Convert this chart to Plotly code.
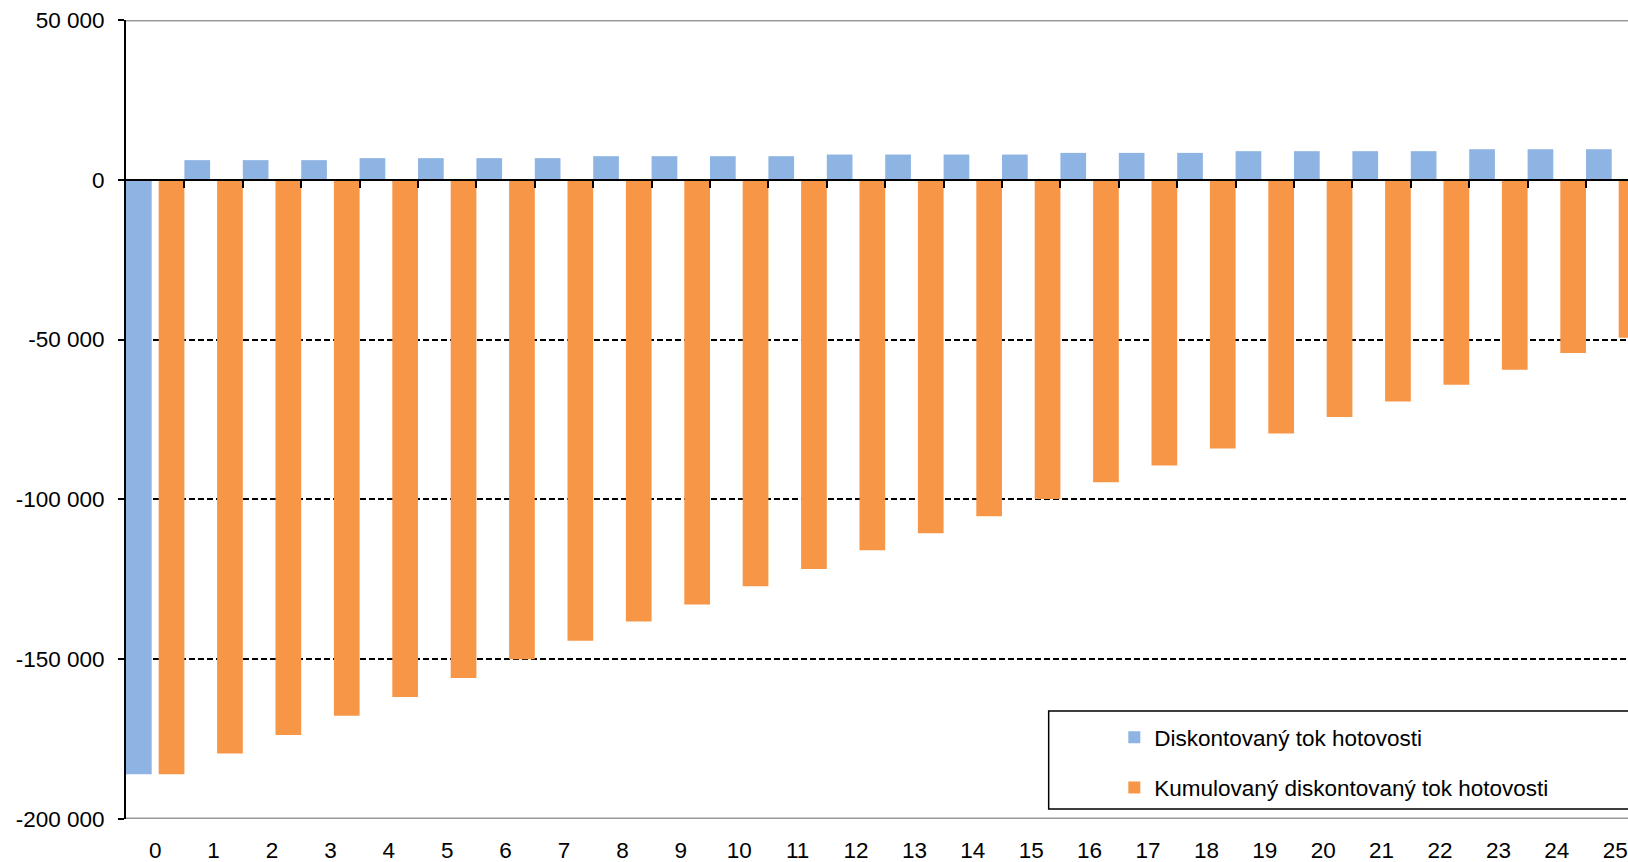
import plotly.graph_objects as go

# Years of the project
years = list(range(26))

# Discounted cash flow per year
discounted_cf = [-186000,
                 6150, 6150, 6150,
                 6780, 6780, 6780, 6780,
                 7390, 7390, 7390, 7390,
                 7900, 7900, 7900, 7900,
                 8420, 8420, 8420,
                 8960, 8960, 8960, 8960,
                 9570, 9570, 9570]

# Cumulative discounted cash flow
cumulative_cf = [-186000, -179500, -173700, -167700, -161800, -155900,
                 -150000, -144200, -138200, -132900, -127200, -121800,
                 -115900, -110600, -105300, -99900, -94600, -89400,
                 -84100, -79400, -74200, -69400, -64100, -59400,
                 -54200, -49400]

y_tick_vals = [50000, 0, -50000, -100000, -150000, -200000]
y_tick_text = ["50 000", "0", "-50 000", "-100 000", "-150 000", "-200 000"]

series_names = ["Diskontovaný tok hotovosti",
                "Kumulovaný diskontovaný tok hotovosti"]

FONT = "Liberation Sans, Arial, sans-serif"
FONT_SIZE = 22.5
BLUE = "#8EB4E3"
ORANGE = "#F79646"
BAR_W = 0.44

fig = go.Figure()
fig.add_trace(go.Bar(
    x=years, y=discounted_cf, name=series_names[0],
    marker=dict(color=BLUE, line=dict(width=0)),
    width=BAR_W, offset=-0.5, legendgroup="a",
))
fig.add_trace(go.Bar(
    x=years, y=cumulative_cf, name=series_names[1],
    marker=dict(color=ORANGE, line=dict(width=0)),
    width=BAR_W, offset=0.5 - BAR_W, legendgroup="b",
))

x_range = [-0.5, -0.5 + 1502 / 58.4]

fig.update_layout(
    width=1628, height=862,
    margin=dict(l=126, r=0, t=20, b=43, autoexpand=False),
    paper_bgcolor="white", plot_bgcolor="white",
    barmode="overlay",
    font=dict(family=FONT, size=FONT_SIZE, color="black"),
    showlegend=True,
    legend=dict(
        x=0.658, y=0.0707, xanchor="left", yanchor="middle",
        bgcolor="rgba(0,0,0,0)", borderwidth=0,
        font=dict(family=FONT, size=FONT_SIZE, color="black"),
        tracegroupgap=18, traceorder="grouped",
    ),
    xaxis=dict(
        range=x_range, tickvals=years, ticktext=[str(v) for v in years],
        showgrid=False, zeroline=False, showline=False, ticks="",
        ticklabelstandoff=15, fixedrange=True,
    ),
    # axis line through zero with tick marks between categories
    xaxis2=dict(
        range=x_range, overlaying="x", anchor="free", position=0.8,
        side="bottom", showgrid=False, zeroline=False,
        showline=True, linecolor="black", linewidth=2,
        ticks="outside", ticklen=7, tickwidth=2, tickcolor="black",
        tickvals=[v + 0.5 for v in years[:-1]], showticklabels=False,
    ),
    yaxis=dict(
        range=[-200000, 50000], tickvals=y_tick_vals, ticktext=y_tick_text,
        showgrid=True, gridcolor="#000000", gridwidth=1.5, griddash="6px,3px",
        zeroline=False, showline=True, linecolor="black", linewidth=2,
        ticks="outside", ticklen=6, tickwidth=1.5, tickcolor="black",
        ticklabelstandoff=9,
    ),
    shapes=[
        dict(type="line", xref="x domain", yref="y", x0=0, x1=1,
             y0=50000, y1=50000, layer="below",
             line=dict(color="#9a9a9a", width=3)),
        dict(type="line", xref="x domain", yref="y", x0=0, x1=1,
             y0=-200000, y1=-200000, layer="below",
             line=dict(color="#9a9a9a", width=3)),
        dict(type="rect", xref="paper", yref="paper",
             x0=0.6143, x1=1.2, y0=0.0125, y1=0.1352,
             line=dict(color="black", width=1.5), fillcolor="rgba(0,0,0,0)"),
    ],
)

# invisible point so the zero-line axis is rendered
fig.add_trace(go.Scatter(x=[0], y=[0], xaxis="x2", mode="markers",
                         marker=dict(opacity=0), showlegend=False,
                         hoverinfo="skip"))

fig.write_html("out.html")
